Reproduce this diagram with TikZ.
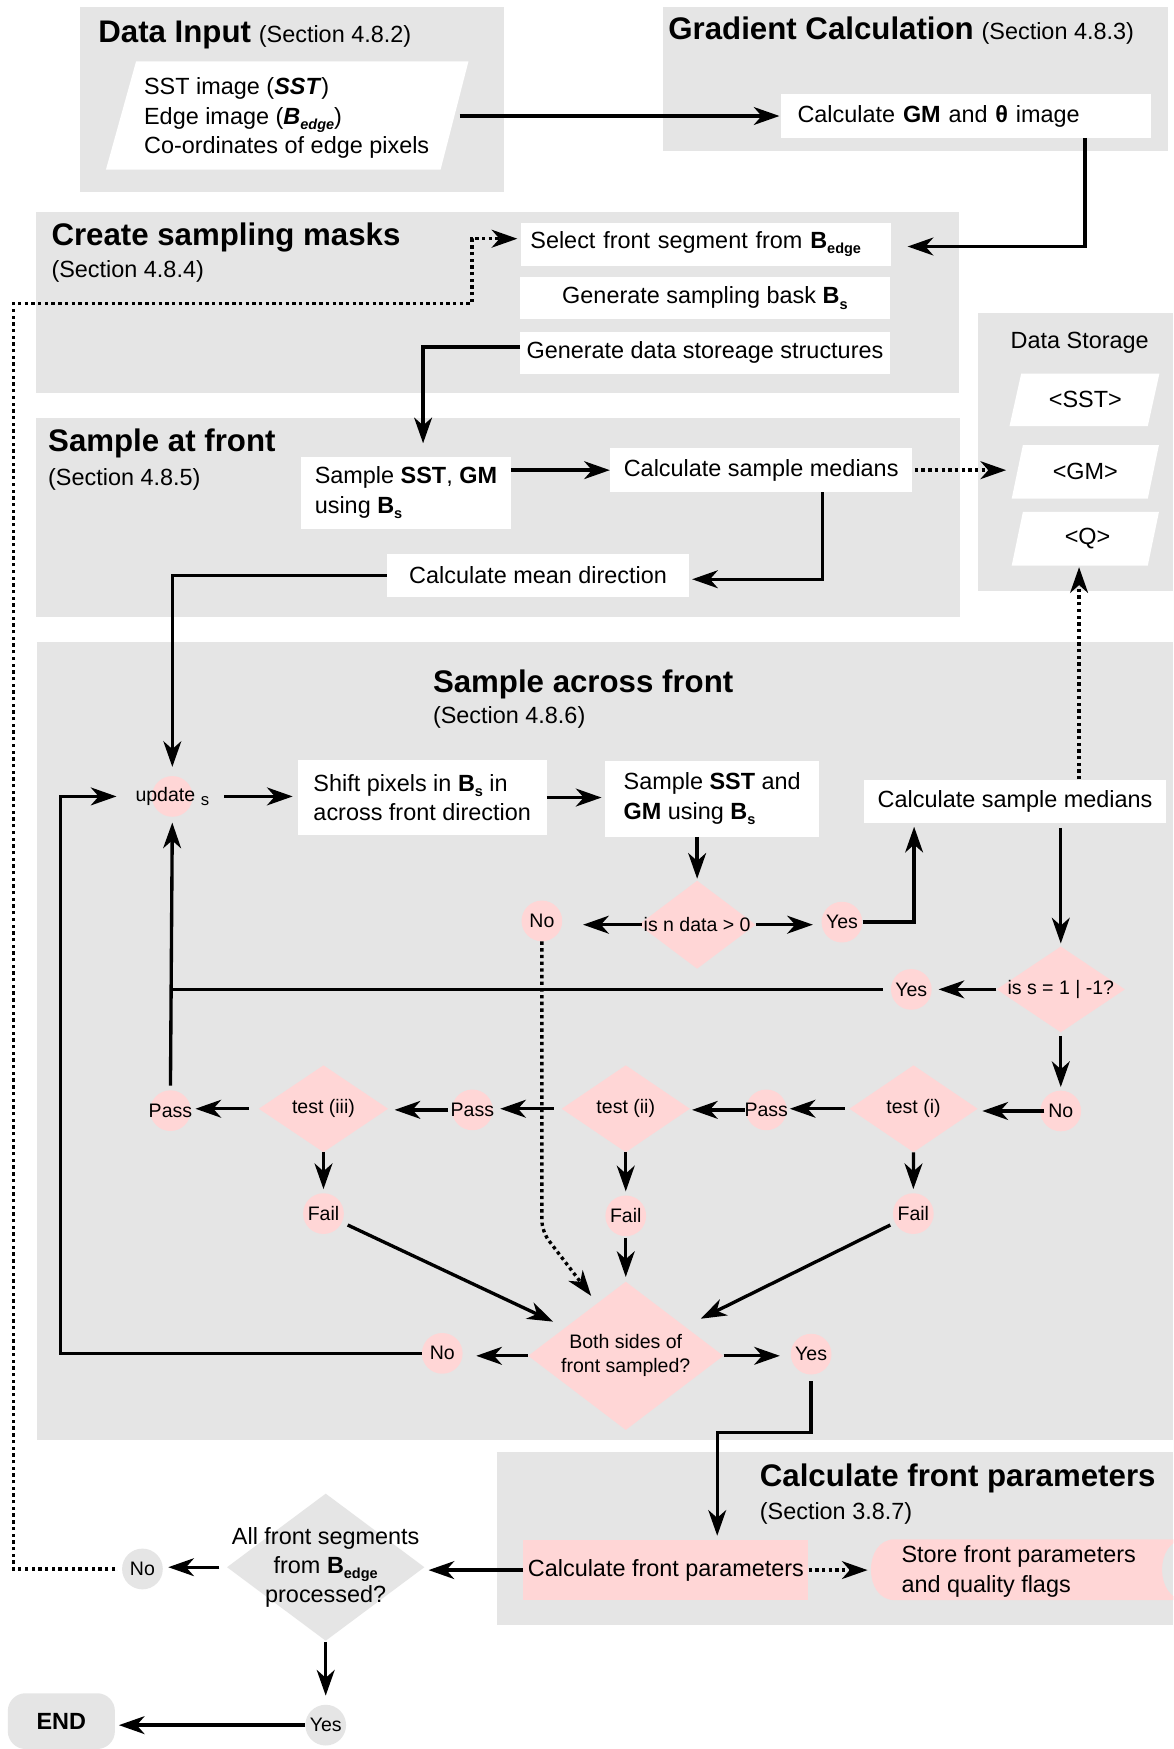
\documentclass[tikz,border=0pt]{standalone}
\usepackage{fontspec}
\setmainfont{Liberation Sans}
\usetikzlibrary{arrows.meta,shapes.geometric,calc}
\definecolor{grp}{RGB}{229,229,229}
\definecolor{pnk}{RGB}{255,214,214}
\newcommand{\ttlfont}{\fontsize{28}{32}\selectfont\bfseries}
\newcommand{\secfont}{\fontsize{21}{26}\selectfont}
\newcommand{\lowsub}[1]{\raisebox{-0.22em}{\fontsize{13}{13}\selectfont #1}}
\newcommand{\zb}[1]{\makebox[0pt]{#1}}
\begin{document}
\begin{tikzpicture}[x=1pt,y=-1pt,
  wbox/.style={fill=white, font=\fontsize{21}{26.5}\selectfont, inner ysep=0pt, inner xsep=3pt},
  txt/.style={font=\fontsize{21}{26.5}\selectfont, inner sep=0pt},
  lab/.style={font=\fontsize{17.5}{21}\selectfont},
  pc/.style={circle, fill=pnk, minimum size=36.5pt, inner sep=0pt, lab},
  gc/.style={circle, fill=grp, minimum size=36.5pt, inner sep=0pt, lab},
  pd/.style={diamond, fill=pnk, inner sep=0pt, lab},
  ttl/.style={anchor=base west, inner sep=0pt, font=\ttlfont},
  sec/.style={anchor=base west, inner sep=0pt, font=\secfont},
  tip/.tip={Stealth[length=23pt,width=16pt,inset=7pt]},
  arr/.style={line width=3pt, -tip},
  ln/.style={line width=3pt},
  dotarr/.style={line width=3pt, dash pattern=on 3pt off 3pt, -tip},
]
\useasboundingbox (0,0) rectangle (1052,1568);
\fill[white] (0,0) rectangle (1052,1568);

% group backgrounds
\fill[grp] (71.5,6.6) rectangle (451.7,172);
\fill[grp] (594,6.6) rectangle (1047,135);
\fill[grp] (32.6,190) rectangle (860,352);
\fill[grp] (877,281) rectangle (1052,530);
\fill[grp] (32.6,375) rectangle (861,553);
\fill[grp] (33.3,575.6) rectangle (1052,1291);
\fill[grp] (445.6,1302) rectangle (1052,1457);

% titles
\node[anchor=base west, inner sep=0pt] (tDI) at (88,38) {{\ttlfont Data Input}\hspace{7pt}{\secfont (Section 4.8.2)}};
\node[anchor=base west, inner sep=0pt] (tGC) at (599,35) {{\ttlfont Gradient Calculation}\hspace{7pt}{\secfont (Section 4.8.3)}};
\node[ttl] (tCS) at (46,220) {Create sampling masks};
\node[sec] (sCS) at (46,249) {(Section 4.8.4)};
\node[ttl] (tSF) at (43,405) {Sample at front};
\node[sec] (sSF) at (43,435) {(Section 4.8.5)};
\node[ttl] (tSA) at (388,621) {Sample across front};
\node[sec] (sSA) at (388,649) {(Section 4.8.6)};
\node[ttl] (tCF) at (681,1333) {Calculate front parameters};
\node[sec] (sCF) at (681,1362) {(Section 3.8.7)};
\node[anchor=base, inner sep=0pt, font=\secfont] (tDS) at (968,312) {Data Storage};

% data input
\fill[white] (122,55) -- (420,55) -- (395,152) -- (95,152) -- cycle;
\node[txt, align=left, anchor=west] (din) at (129,106) {SST image (\textbf{\textit{SST}})\\Edge image (\textbf{\textit{B}}\lowsub{\bfseries\itshape edge})\\Co-ordinates of edge pixels};
\coordinate (dinE) at (412,104);

% data storage
\fill[white] (915.5,335) -- (1039.4,335) -- (1029,382) -- (905,382) -- cycle;
\fill[white] (917,399) -- (1039,399) -- (1029,447) -- (907,447) -- cycle;
\fill[white] (917,459) -- (1039,459) -- (1029,507) -- (907,507) -- cycle;
\node[txt] (sSST) at (973,358.5) {<SST>};
\node[txt] (sGM) at (973,423) {<GM>};
\node[txt] (sQ) at (975,483) {<Q>};
\coordinate (gmL) at (912,421.5);
\coordinate (qB) at (967.4,507);

% boxes
\node[wbox, text width=302pt, inner xsep=15pt, minimum height=39pt, align=left] (gm) at (866,104) {Calculate \textbf{GM} and \textbf{θ} image};
\node[wbox, text width=315pt, inner xsep=8pt, minimum height=38.6pt, align=left] (sel) at (633,219) {Select front segment from \textbf{B}\lowsub{\bfseries edge}};
\node[wbox, minimum width=331pt, minimum height=38.4pt] (gen1) at (632,267.2) {Generate sampling bask \textbf{B}\lowsub{\bfseries s}};
\node[wbox, minimum width=331pt, minimum height=37.4pt] (gen2) at (632,316.2) {Generate data storeage structures};
\node[wbox, minimum width=187.6pt, minimum height=64.4pt, align=left] (ssg) at (363.9,441.8) {Sample \textbf{SST}, \textbf{GM}\\using \textbf{B}\lowsub{\bfseries s}};
\node[wbox, minimum width=271pt, minimum height=39pt] (csm1) at (682.4,421.5) {Calculate sample medians};
\node[wbox, minimum width=271pt, minimum height=39pt] (cmd) at (482.4,515.8) {Calculate mean direction};
\node[wbox, minimum width=223pt, minimum height=66.7pt, align=left] (shift) at (378.5,715) {Shift pixels in \textbf{B}\lowsub{\bfseries s} in\\across front direction};
\node[wbox, minimum width=192pt, minimum height=68pt, align=left] (ssg2) at (638.5,716) {Sample \textbf{SST} and\\\textbf{GM} using \textbf{B}\lowsub{\bfseries s}};
\node[wbox, minimum width=271pt, minimum height=39pt] (csm2) at (910,718.5) {Calculate sample medians};

% across-front decision nodes
\node[pc] (upd) at (154.5,714) {\zb{update\hspace{5pt}\raisebox{-3.5pt}{\fontsize{15}{15}\selectfont s}}};
\node[pd, minimum width=105pt, minimum height=79pt] (dn) at (625,829) {\zb{is n data > 0}};
\node[pc] (no1) at (485.8,825.6) {\zb{No}};
\node[pc] (yes1) at (754.8,826.7) {\zb{Yes}};
\node[pd, minimum width=115pt, minimum height=77pt] (ds) at (951,887) {\zb{is s = 1 | -1?}};
\node[pc] (yes2) at (817,887) {\zb{Yes}};
\node[pc] (no2) at (951,996) {\zb{No}};
\node[pd, minimum width=115pt, minimum height=78pt] (t1) at (819,994) {\zb{test (i)}};
\node[pc] (p1) at (687,995) {\zb{Pass}};
\node[pd, minimum width=115pt, minimum height=78pt] (t2) at (561,994) {\zb{test (ii)}};
\node[pc] (p2) at (423.5,995) {\zb{Pass}};
\node[pd, minimum width=116pt, minimum height=78pt] (t3) at (290,994) {\zb{test (iii)}};
\node[pc] (p3) at (152.8,995.7) {\zb{Pass}};
\node[pc] (f3) at (290,1088) {\zb{Fail}};
\node[pc] (f2) at (561,1090) {\zb{Fail}};
\node[pc] (f1) at (818.8,1088) {\zb{Fail}};
\node[pd, minimum width=175pt, minimum height=133pt] (both) at (561,1215.5) {\zb{\begin{tabular}{@{}c@{}}Both sides of\\front sampled?\end{tabular}}};
\node[pc] (no3) at (396.5,1213.3) {\zb{No}};
\node[pc] (yes3) at (727.2,1214) {\zb{Yes}};

% front parameters
\node[fill=pnk, font=\fontsize{21}{26}\selectfont, minimum width=255.5pt, minimum height=53.8pt, inner sep=2pt] (cfp) at (597,1407.6) {Calculate front parameters};
\begin{scope}
\clip (0,0) rectangle (1052,1568);
\fill[pnk] (802,1380) -- (1063,1380) .. controls (1034.7,1380) and (1034.7,1434.5) .. (1063,1434.5) -- (802,1434.5) .. controls (773.7,1434.5) and (773.7,1380) .. (802,1380) -- cycle;
\end{scope}
\node[txt, align=left, anchor=west] (store) at (808,1409) {Store front parameters\\and quality flags};
\coordinate (stL) at (780.8,1407.6);

% bottom
\node[diamond, fill=grp, inner sep=0pt, minimum width=177pt, minimum height=132pt, font=\fontsize{21}{26}\selectfont] (dall) at (292,1405) {\zb{\begin{tabular}{@{}c@{}}All front segments\\from \textbf{B}\lowsub{\bfseries edge}\\processed?\end{tabular}}};
\node[gc] (no4) at (127.7,1406.6) {\zb{No}};
\node[gc] (yes4) at (292,1546.6) {\zb{Yes}};
\node[fill=grp, rounded corners=16pt, minimum width=96pt, minimum height=50pt, inner sep=0pt, font=\fontsize{21}{25}\selectfont\bfseries] (endn) at (55,1543) {END};

% helper coordinates
\coordinate (lx) at (54,1213.3);
\coordinate (dA) at (12,272);
\coordinate (dB) at (423,272);

% connectors
\draw[arr, shorten >=1pt] (dinE) -- (dinE -| gm.west);
\draw[arr, shorten >=15pt] ([xshift=-59.6pt]gm.south east) |- ([yshift=-2pt]sel.east);
\draw[arr, shorten >=12pt] ([yshift=5pt]gen2.west) -| ([xshift=109.4pt]ssg.north west);
\draw[arr] (ssg.east |- csm1.west) -- (csm1.west);
\draw[dotarr, shorten <=2pt, shorten >=10pt] (csm1.east) -- (gmL);
\draw[arr, shorten >=2.4pt] ([xshift=55pt]csm1.south) |- ([yshift=-3.5pt]cmd.east);
\draw[arr, shorten >=8pt] (cmd.west) -| (upd.north);
\draw[arr, shorten <=28pt, shorten >=4.4pt] (upd.east) -- (shift.west |- upd.east);
\draw[arr, shorten >=3pt] (shift.east) -- (ssg2.west |- shift.east);
\draw[arr, shorten >=1.5pt] (dn.north |- ssg2.south) -- (dn.north);
\draw[arr, shorten <=-3pt, shorten >=18.5pt] (dn.west) -- (dn.west -| no1.east);
\draw[arr, shorten >=7.6pt] (dn.east) -- (dn.east -| yes1.west);
\draw[arr, shorten >=3pt] (yes1.east) -| ([xshift=-90.5pt]csm2.south);
\draw[dotarr, shorten >=1.5pt] ([xshift=57.4pt]csm2.north) -- (qB);
\draw[arr, shorten <=4pt, shorten >=2.5pt] (csm2.south -| ds.north) -- (ds.north);
\draw[arr, shorten >=6pt] (ds.west) -- (ds.west -| yes2.east);
\draw[ln, shorten <=7pt] (yes2.west) -- (yes2.west -| p3.north);
\draw[arr, shorten <=4pt, shorten >=5pt] (p3.north) -- (upd.south);
\draw[arr, shorten <=3pt, shorten >=3pt] (ds.south) -- (no2.north);
\draw[arr, shorten <=-3.8pt, shorten >=4pt] (no2.west) -- (no2.west -| t1.east);
\draw[arr, shorten <=4pt, shorten >=2.6pt] (t1.west) -- (t1.west -| p1.east);
\draw[arr, shorten <=1pt, shorten >=1.7pt] (p1.west) -- (p1.west -| t2.east);
\draw[arr, shorten <=7pt, shorten >=6.5pt] (t2.west) -- (t2.west -| p2.east);
\draw[arr, shorten <=3.3pt, shorten >=5.6pt] (p2.west) -- (p2.west -| t3.east);
\draw[arr, shorten <=8.6pt, shorten >=4pt] (t3.west) -- (t3.west -| p3.east);
\draw[arr, shorten >=3.5pt] (t3.south) -- (f3.north);
\draw[arr, shorten >=3.5pt] (t2.south) -- (f2.north);
\draw[arr, shorten >=3.5pt] (t1.south) -- (f1.north);
\draw[arr, shorten <=24pt, shorten >=72pt] (f3.center) -- (both.center);
\draw[arr, shorten <=23pt, shorten >=75pt] (f1.center) -- (both.center);
\draw[arr, shorten <=1pt, shorten >=4pt] (f2.south) -- (both.north);
\draw[dotarr, rounded corners=10pt] (no1.south) -- ++(0,260) -- ([xshift=-31pt,yshift=-13pt]both.north);
\draw[arr, shorten >=12pt] (both.west) -- (both.west -| no3.east);
\draw[arr, shorten >=31.6pt] (no3.west) -- (lx) |- (upd.west);
\draw[arr, shorten >=9.6pt] (both.east) -- (both.east -| yes3.west);
\draw[arr, shorten <=5.7pt, shorten >=3.7pt] (yes3.south) -- ++(0,52) -| ([xshift=46pt]cfp.north);
\draw[dotarr, shorten >=3pt] (cfp.east) -- (stL);
\draw[arr, shorten >=3.5pt] (cfp.west) -- (cfp.west -| dall.east);
\draw[arr, shorten <=6.6pt, shorten >=4.7pt] (dall.west) -- (dall.west -| no4.east);
\draw[dotarr, shorten <=6pt, shorten >=3.5pt] (no4.west) -| (dA) -- (dB) |- ([yshift=5pt]sel.west);
\draw[arr, shorten <=0.7pt, shorten >=8pt] (dall.south) -- (dall.south |- yes4.north);
\draw[arr, shorten >=3.4pt] (yes4.west) -- (yes4.west -| endn.east);
\end{tikzpicture}
\end{document}
